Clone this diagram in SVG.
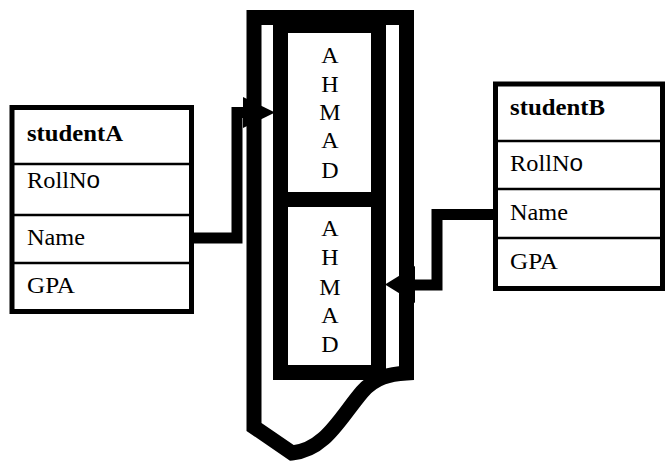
<svg xmlns="http://www.w3.org/2000/svg" width="667" height="461" viewBox="0 0 667 461">
<style>
.tbl{fill:#fff;stroke:#000;stroke-width:5}
.div{stroke:#000;stroke-width:2.5}
.t{font-family:"Liberation Serif","Times New Roman",serif;font-size:23px;fill:#000}
.b{font-weight:bold}
.s{font-family:"Liberation Sans",Arial,sans-serif}
.thick{fill:none;stroke:#000;stroke-linejoin:miter}
.let{font-family:"Liberation Serif","Times New Roman",serif;font-size:24px;fill:#000;text-anchor:middle}
</style>
<rect width="667" height="461" fill="#fff"/>
<g id="loop">
<path class="thick" stroke-width="15" d="M 406.5 17.5 L 406.5 373 C 390 374, 375 377, 362 392 C 340 418, 325 450, 292 453 L 254 427 L 254 17.5 Z"/>
</g>
<g id="ahmad">
<rect x="280.5" y="25.5" width="98" height="347" class="thick" stroke-width="15"/>
<line x1="280.5" y1="199.5" x2="378.5" y2="199.5" stroke="#000" stroke-width="15"/>
<text class="let" x="330" y="63">A</text>
<text class="let" x="330" y="92">H</text>
<text class="let" x="330" y="120">M</text>
<text class="let" x="330" y="148">A</text>
<text class="let" x="330" y="178">D</text>
<text class="let" x="330" y="236">A</text>
<text class="let" x="330" y="265">H</text>
<text class="let" x="330" y="295">M</text>
<text class="let" x="330" y="323">A</text>
<text class="let" x="330" y="352">D</text>
</g>
<g id="studentA">
<rect class="tbl" x="12" y="107.5" width="179.5" height="204"/>
<line class="div" x1="12" y1="164" x2="191.5" y2="164"/>
<line class="div" x1="12" y1="215" x2="191.5" y2="215"/>
<line class="div" x1="12" y1="263" x2="191.5" y2="263"/>
<text class="t b" x="27" y="141" textLength="96" lengthAdjust="spacingAndGlyphs">studentA</text>
<text class="t" x="27" y="188" textLength="73" lengthAdjust="spacingAndGlyphs">RollN<tspan class="s">o</tspan></text>
<text class="t" x="27" y="245" textLength="58" lengthAdjust="spacingAndGlyphs">Name</text>
<text class="t" x="27" y="293" textLength="48" lengthAdjust="spacingAndGlyphs">GPA</text>
</g>
<g id="studentB">
<rect class="tbl" x="495.5" y="84" width="167" height="204.5"/>
<line class="div" x1="495.5" y1="141" x2="662.5" y2="141"/>
<line class="div" x1="495.5" y1="189" x2="662.5" y2="189"/>
<line class="div" x1="495.5" y1="238" x2="662.5" y2="238"/>
<text class="t b" x="510" y="115" textLength="95" lengthAdjust="spacingAndGlyphs">studentB</text>
<text class="t" x="510" y="171" textLength="73" lengthAdjust="spacingAndGlyphs">RollN<tspan class="s">o</tspan></text>
<text class="t" x="510" y="220" textLength="58" lengthAdjust="spacingAndGlyphs">Name</text>
<text class="t" x="510" y="269" textLength="48" lengthAdjust="spacingAndGlyphs">GPA</text>
</g>
<g id="connectors">
<polyline class="thick" stroke-width="11" points="194,238 237,238 237,112.5 248,112.5"/>
<polygon points="243,97 275,112.5 243,128" fill="#000"/>
<polyline class="thick" stroke-width="11" points="493,214.5 437,214.5 437,285 410,285"/>
<polygon points="415,266 385,284.5 415,303" fill="#000"/>
</g>
</svg>
